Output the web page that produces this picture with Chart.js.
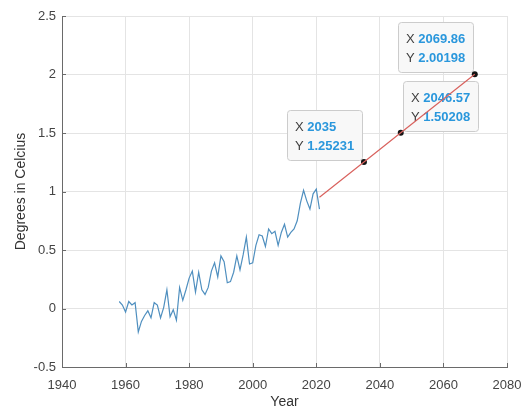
<!DOCTYPE html>
<html>
<head>
<meta charset="utf-8">
<script src="https://cdn.jsdelivr.net/npm/chart.js@4/dist/chart.umd.min.js"></script>
<style>
  html, body { margin: 0; padding: 0; background: #ffffff; }
  #wrap { width: 527px; height: 408px; }
</style>
</head>
<body>
<div id="wrap"><canvas id="chart" width="527" height="408"></canvas></div>
<script>
// Annual temperature anomaly, degrees Celsius
const years = [
  1958, 1959, 1960, 1961, 1962, 1963, 1964, 1965, 1966, 1967,
  1968, 1969, 1970, 1971, 1972, 1973, 1974, 1975, 1976, 1977,
  1978, 1979, 1980, 1981, 1982, 1983, 1984, 1985, 1986, 1987,
  1988, 1989, 1990, 1991, 1992, 1993, 1994, 1995, 1996, 1997,
  1998, 1999, 2000, 2001, 2002, 2003, 2004, 2005, 2006, 2007,
  2008, 2009, 2010, 2011, 2012, 2013, 2014, 2015, 2016, 2017,
  2018, 2019, 2020, 2021
];
const anomaly = [
  0.06, 0.03, -0.03, 0.06, 0.03, 0.05, -0.20, -0.11, -0.06, -0.02,
  -0.08, 0.05, 0.03, -0.08, 0.01, 0.16, -0.07, -0.01, -0.10, 0.18,
  0.07, 0.16, 0.26, 0.32, 0.14, 0.31, 0.16, 0.12, 0.18, 0.32,
  0.39, 0.27, 0.45, 0.40, 0.22, 0.23, 0.31, 0.45, 0.33, 0.46,
  0.61, 0.38, 0.39, 0.54, 0.63, 0.62, 0.53, 0.68, 0.64, 0.66,
  0.54, 0.65, 0.72, 0.61, 0.65, 0.68, 0.75, 0.90, 1.01, 0.92,
  0.85, 0.98, 1.02, 0.85
];

// Linear projection
const trendYears = [2021, 2035, 2046.57, 2069.86];
const trendValues = [0.951, 1.25231, 1.50208, 2.00198];

// Marked points on the projection
const tipYears = [2035, 2046.57, 2069.86];
const tipValues = [1.25231, 1.50208, 2.00198];
const tipXText = ['2035', '2046.57', '2069.86'];
const tipYText = ['1.25231', '1.50208', '2.00198'];

// Axis ticks
const xTicks = [1940, 1960, 1980, 2000, 2020, 2040, 2060, 2080];
const yTicks = [-0.5, 0, 0.5, 1, 1.5, 2, 2.5];

const FONT = "'Liberation Sans', Arial, Helvetica, sans-serif";
const AXIS_COLOR = '#6a6a6a';

// Inward tick marks on the left and bottom axes
const innerTicks = {
  id: 'innerTicks',
  afterDatasetsDraw(chart) {
    const { ctx, chartArea: a, scales: { x, y } } = chart;
    ctx.save();
    ctx.strokeStyle = AXIS_COLOR;
    ctx.lineWidth = 1;
    ctx.beginPath();
    xTicks.forEach(v => {
      const px = Math.round(x.getPixelForValue(v)) + 0.5;
      ctx.moveTo(px, a.bottom);
      ctx.lineTo(px, a.bottom - 4);
    });
    yTicks.forEach(v => {
      const py = Math.round(y.getPixelForValue(v)) + 0.5;
      ctx.moveTo(a.left, py);
      ctx.lineTo(a.left + 4, py);
    });
    ctx.stroke();
    ctx.restore();
  }
};

// Data tip boxes next to the marked points
const dataTips = {
  id: 'dataTips',
  beforeDatasetsDraw(chart, args, opts) {
    const { ctx, scales: { x, y } } = chart;
    ctx.save();
    const size = 13;
    const lab = `${size}px ${FONT}`;
    const val = `bold ${size}px ${FONT}`;
    tipYears.forEach((yr, i) => {
      const px = x.getPixelForValue(yr);
      const py = y.getPixelForValue(tipValues[i]);
      const rows = [['X ', tipXText[i]], ['Y ', tipYText[i]]];
      let w = 0;
      rows.forEach(([l, v]) => {
        ctx.font = lab; const lw = ctx.measureText(l).width;
        ctx.font = val; const vw = ctx.measureText(v).width;
        w = Math.max(w, lw + vw);
      });
      const bw = Math.round(w + 2 * opts.padX);
      const bh = opts.height;
      const side = opts.sides[i];
      const left = side === 'left' ? Math.round(px) - opts.gap - bw : Math.round(px) + opts.gap;
      const top = Math.round(py) - opts.gap - bh;
      ctx.fillStyle = '#f8f8f8';
      ctx.strokeStyle = '#cccccc';
      ctx.lineWidth = 1;
      ctx.beginPath();
      ctx.roundRect(left + 0.5, top + 0.5, bw, bh, 3);
      ctx.fill();
      ctx.stroke();
      ctx.textBaseline = 'middle';
      ctx.textAlign = 'left';
      rows.forEach(([l, v], r) => {
        const ty = top + opts.firstRow + r * opts.rowGap;
        const tx = left + opts.padX;
        ctx.font = lab;
        ctx.fillStyle = '#404040';
        ctx.fillText(l, tx, ty);
        const lw = ctx.measureText(l).width;
        ctx.font = val;
        ctx.fillStyle = '#2a97dc';
        ctx.fillText(v, tx + lw, ty);
      });
    });
    ctx.restore();
  }
};

new Chart(document.getElementById('chart'), {
  type: 'scatter',
  data: {
    datasets: [
      {
        data: years.map((yr, i) => ({ x: yr, y: anomaly[i] })),
        showLine: true,
        borderColor: '#4f8fbf',
        borderWidth: 1.2,
        pointRadius: 0,
        tension: 0
      },
      {
        data: trendYears.map((yr, i) => ({ x: yr, y: trendValues[i] })),
        showLine: true,
        borderColor: '#d9625e',
        borderWidth: 1.2,
        pointRadius: 0,
        tension: 0
      },
      {
        data: tipYears.map((yr, i) => ({ x: yr, y: tipValues[i] })),
        showLine: false,
        pointRadius: 3,
        pointBackgroundColor: '#141414',
        pointBorderColor: '#141414',
        pointBorderWidth: 0
      }
    ]
  },
  options: {
    responsive: false,
    animation: false,
    events: [],
    layout: { padding: { left: 0, right: 20, top: 16, bottom: 0 } },
    plugins: {
      legend: { display: false },
      tooltip: { enabled: false },
      dataTips: { sides: ['left', 'right', 'left'], padX: 8, height: 50, firstRow: 17.5, rowGap: 19, gap: 2 }
    },
    scales: {
      x: {
        type: 'linear',
        min: 1940,
        max: 2080,
        afterBuildTicks: s => { s.ticks = xTicks.map(v => ({ value: v })); },
        afterFit: s => { s.height = 41; s.paddingLeft = 0; s.paddingRight = 0; },
        grid: { color: '#e4e4e4', drawTicks: false },
        border: { color: AXIS_COLOR, width: 1 },
        ticks: {
          padding: 11,
          color: '#444444',
          font: { family: FONT, size: 13 },
          maxRotation: 0,
          autoSkip: false,
          callback: v => String(v)
        },
        title: {
          display: true,
          text: 'Year',
          color: '#333333',
          font: { family: FONT, size: 14, lineHeight: 0.9 },
          padding: { top: 0, bottom: 0 }
        }
      },
      y: {
        type: 'linear',
        min: -0.5,
        max: 2.5,
        afterBuildTicks: s => { s.ticks = yTicks.map(v => ({ value: v })); },
        afterFit: s => { s.width = 62; s.paddingTop = 0; s.paddingBottom = 0; },
        grid: { color: '#e4e4e4', drawTicks: false },
        border: { color: AXIS_COLOR, width: 1 },
        ticks: {
          padding: 6,
          color: '#444444',
          font: { family: FONT, size: 13 },
          autoSkip: false,
          callback: v => String(v)
        },
        title: {
          display: true,
          text: 'Degrees in Celcius',
          color: '#333333',
          font: { family: FONT, size: 14, lineHeight: 1.2 },
          padding: { top: 13, bottom: 0 }
        }
      }
    }
  },
  plugins: [dataTips, innerTicks]
});
</script>
</body>
</html>
